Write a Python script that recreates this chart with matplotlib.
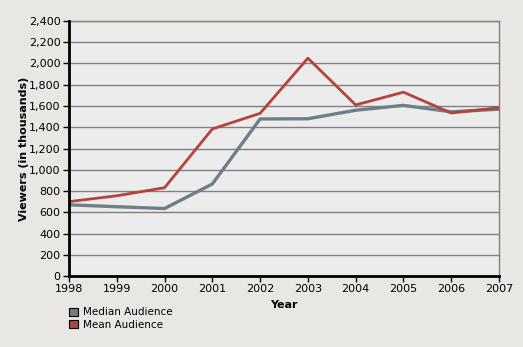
import numpy as np
import matplotlib.pyplot as plt
from matplotlib.patches import Patch

# data
years = [1998, 1999, 2000, 2001, 2002, 2003, 2004, 2005, 2006, 2007]
median_audience = [670, 652, 635, 866, 1478, 1480, 1560, 1606, 1545, 1570]
mean_audience = [700, 755, 831, 1384, 1531, 2050, 1610, 1730, 1534, 1584]
yticks = list(range(0, 2401, 200))

median_color = "#6f7f86"
mean_color = "#b5433a"

plt.rcParams['font.family'] = ['DejaVu Sans']

fig = plt.figure(figsize=(5.23, 3.47), dpi=100)
fig.patch.set_facecolor("#e8e7e3")
ax = fig.add_axes([69 / 523, 71 / 347, 430 / 523, 255 / 347])
ax.set_facecolor("#ececec")

ax.plot(years, median_audience, color=median_color, lw=2.4, zorder=3)
ax.plot(years, mean_audience, color=mean_color, lw=2.0, zorder=4)

ax.set_xlim(1998, 2007)
ax.set_ylim(0, 2400)
ax.set_xticks(years)
ax.set_yticks(yticks)
ax.set_yticklabels([f"{v:,}" for v in yticks])
ax.yaxis.grid(True, color="#808080", lw=1)
ax.set_axisbelow(True)

for side in ["top", "right"]:
    ax.spines[side].set_color("#808080")
    ax.spines[side].set_linewidth(1)
for side in ["left", "bottom"]:
    ax.spines[side].set_color("black")
    ax.spines[side].set_linewidth(2)
    ax.spines[side].set_zorder(5)

ax.tick_params(axis="both", labelsize=8, direction="out", length=4,
               width=1, color="black", pad=2)

ax.set_xlabel("Year", fontsize=8, fontweight="bold", labelpad=4)
ax.set_ylabel("Viewers (in thousands)", fontsize=8, fontweight="bold", labelpad=0)

handles = [Patch(facecolor=median_color, edgecolor="black", lw=0.8),
           Patch(facecolor=mean_color, edgecolor="black", lw=0.8)]
fig.legend(handles, ["Median Audience", "Mean Audience"],
           loc="upper left", bbox_to_anchor=(65 / 523, 1 - 303 / 347),
           frameon=False, fontsize=7.5, handlelength=0.8, handleheight=0.8,
           handletextpad=0.5, labelspacing=0.25, borderaxespad=0)

fig.savefig("out.png", dpi=100, facecolor=fig.get_facecolor())
